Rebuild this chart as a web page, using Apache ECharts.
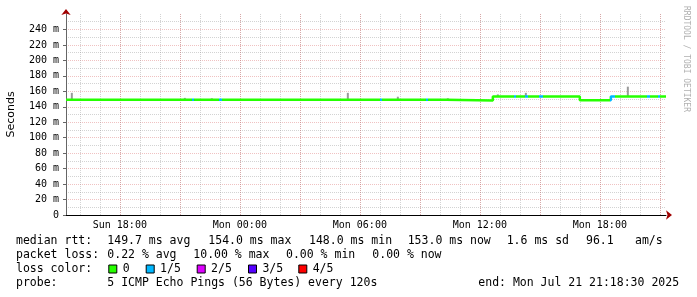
<!DOCTYPE html>
<html><head><meta charset="utf-8">
<script src="https://cdn.jsdelivr.net/npm/echarts@6/dist/echarts.min.js"></script>
<style>html,body{margin:0;padding:0;background:#fff}#c{width:697px;height:297px}</style>
</head><body><div id="c"></div>
<script>
// ---------- data ----------
const startTime = '2025-07-20 15:18:30';
const endTime = '2025-07-21 21:18:30';
// median RTT in ms, value holds from each time until the next one
const medianTimes = ['2025-07-20 15:18:30', '2025-07-21 10:18', '2025-07-21 12:39', '2025-07-21 17:00', '2025-07-21 18:33', '2025-07-21 21:18:30'];
const medianValues = [149.2, 148.0, 153.2, 148.4, 153.3, 153.3];
// packet loss periods (loss level in fifths)
const lossStart = ['2025-07-20 21:35', '2025-07-20 22:59', '2025-07-21 07:00', '2025-07-21 09:20', '2025-07-21 13:44', '2025-07-21 14:17', '2025-07-21 14:58', '2025-07-21 18:32', '2025-07-21 20:22', '2025-07-21 20:56'];
const lossEnd   = ['2025-07-20 21:42', '2025-07-20 23:06', '2025-07-21 07:07', '2025-07-21 09:24', '2025-07-21 13:48', '2025-07-21 14:24', '2025-07-21 15:09', '2025-07-21 18:45', '2025-07-21 20:30', '2025-07-21 21:00'];
const lossLevel = [1, 1, 1, 1, 1, 1, 1, 1, 1, 1];
// smoke (spread of pings) in ms
const smokeTimes = ['2025-07-20 15:36', '2025-07-20 21:15', '2025-07-20 22:36', '2025-07-21 05:24', '2025-07-21 07:54', '2025-07-21 10:24', '2025-07-21 12:54', '2025-07-21 14:18', '2025-07-21 19:24'];
const smokeLow  = [149, 149, 149, 149, 149, 148, 153, 153, 153];
const smokeHigh = [158, 151.5, 151, 158, 153, 151, 156, 158, 166];
// axes
const yMin = 0, yMax = 260, yStep = 20;
const xLabelTimes = ['2025-07-20 18:00', '2025-07-21 00:00', '2025-07-21 06:00', '2025-07-21 12:00', '2025-07-21 18:00'];
const xLabels = ['Sun 18:00', 'Mon 00:00', 'Mon 06:00', 'Mon 12:00', 'Mon 18:00'];
const firstGridHour = '2025-07-20 16:00';
// legend texts
const lossLabels = ['0', '1/5', '2/5', '3/5', '4/5'];
const lossColors = ['#26ff00', '#00b8ff', '#dd00ff', '#5500ff', '#ff0000'];
const rttStats = ['median rtt:', '149.7 ms avg', '154.0 ms max', '148.0 ms min', '153.0 ms now', '1.6 ms sd', '96.1', 'am/s'];
const lossStats = ['packet loss:', '0.22 % avg', '10.00 % max', '0.00 % min', '0.00 % now'];
const probeTexts = ['probe:', '5 ICMP Echo Pings (56 Bytes) every 120s', 'end: Mon Jul 21 21:18:30 2025'];
const watermark = 'RRDTOOL / TOBI OETIKER';

// ---------- layout ----------
const toMs = s => new Date(s.replace(' ', 'T')).getTime();
const HOUR = 3600000;
const mono = '"DejaVu Sans Mono", monospace';
const rttX = [16, 107.3, 208.3, 309, 407.7, 506.7, 586, 635];
const lossX = [16, 107.3, 193.3, 286, 372.3];
const swatchX = [108.3, 145.7, 196.7, 248, 298.3];
const probeX = [16, 107.3, 478.3];
const rowY = [241.5, 255.5, 269.5, 283.5];

const graphic = [];
const txt = (t, x, y) => graphic.push({type: 'text', x: x, y: y, style: {text: t, font: '11.5px ' + mono, fill: '#000', verticalAlign: 'middle'}});
rttStats.forEach((t, i) => txt(t, rttX[i], rowY[0]));
lossStats.forEach((t, i) => txt(t, lossX[i], rowY[1]));
txt('loss color:', 16, rowY[2]);
lossLabels.forEach((t, i) => {
  graphic.push({type: 'rect', shape: {x: swatchX[i] + 0.5, y: rowY[2] - 4.5, width: 8, height: 8}, style: {fill: lossColors[i], stroke: '#000', lineWidth: 1}});
  txt(t, swatchX[i] + 14.4, rowY[2]);
});
probeTexts.forEach((t, i) => txt(t, probeX[i], rowY[3]));
graphic.push({type: 'text', x: 686, y: 59, rotation: -Math.PI / 2, style: {text: watermark, font: '8px ' + mono, fill: '#b0b0b0', align: 'center', verticalAlign: 'middle'}});

// grid positions: every clock hour (grey) and every 3 hours (red)
const tStart = toMs(startTime), tEnd = toMs(endTime);
const hourTicks = [];
for (let t = toMs(firstGridHour); t < tEnd; t += HOUR) hourTicks.push(t);
const threeHourTicks = hourTicks.filter(t => new Date(t).getHours() % 3 === 0);
const labelTicks = xLabelTimes.map(toMs);

const minorStyle = {color: 'rgba(150,150,150,0.42)', type: [1, 1], width: 1};
const majorStyle = {color: 'rgba(220,110,110,0.42)', type: [1, 1], width: 1};

const medianData = medianTimes.map((t, i) => [toMs(t), medianValues[i]]);
const smokeData = smokeTimes.map((t, i) => [toMs(t), smokeLow[i], smokeHigh[i]]);

const xBase = {type: 'value', min: tStart, max: tEnd, position: 'bottom', scale: true};
const option = {
  animation: false,
  backgroundColor: '#fff',
  grid: {left: 66, right: 31, top: 14, bottom: 82, containLabel: false, outerBoundsMode: 'none'},
  xAxis: [
    Object.assign({}, xBase, {axisLine: {show: false}, axisTick: {show: false, customValues: hourTicks}, axisLabel: {show: false},
      splitLine: {show: true, showMinLine: true, showMaxLine: true, lineStyle: minorStyle}}),
    Object.assign({}, xBase, {
      axisLine: {show: true, lineStyle: {color: '#000', width: 1}},
      axisTick: {show: false, customValues: threeHourTicks},
      splitLine: {show: true, showMinLine: true, showMaxLine: true, lineStyle: majorStyle},
      axisLabel: {show: true, customValues: labelTicks, margin: 5, color: '#000', fontFamily: mono, fontSize: 10, hideOverlap: false,
        formatter: v => { const k = labelTicks.indexOf(+v); return k >= 0 ? xLabels[k] : ''; }}}),
    Object.assign({}, xBase, {axisLine: {show: true, symbol: ['none', 'arrow'], symbolSize: [7, 6], symbolOffset: [0, 6], lineStyle: {color: '#a00000', width: 0}}, axisTick: {show: false}, axisLabel: {show: false}, splitLine: {show: false}})
  ],
  yAxis: [
    {type: 'value', min: yMin, max: yMax, interval: yStep, position: 'left',
      name: 'Seconds', nameLocation: 'middle', nameRotate: 90, nameGap: 49,
      nameTextStyle: {fontFamily: '"DejaVu Sans", sans-serif', fontSize: 11, color: '#000'},
      axisLine: {show: true, lineStyle: {color: '#666', width: 1}},
      axisTick: {show: true, length: 3, lineStyle: {color: '#666'}},
      axisLabel: {margin: 7, color: '#000', fontFamily: mono, fontSize: 10, showMaxLabel: false, formatter: v => v === 0 ? '0' : v + ' m'},
      splitLine: {show: true, showMinLine: false, showMaxLine: false, lineStyle: majorStyle},
      minorTick: {show: false, splitNumber: 2},
      minorSplitLine: {show: true, lineStyle: minorStyle}},
    {type: 'value', min: yMin, max: yMax, position: 'left',
      axisLine: {show: true, symbol: ['none', 'arrow'], symbolSize: [7, 6], symbolOffset: [0, 5], lineStyle: {color: '#a00000', width: 0}},
      axisTick: {show: false}, axisLabel: {show: false}, splitLine: {show: false}}
  ],
  visualMap: {type: 'piecewise', show: false, seriesIndex: 1, dimension: 0,
    pieces: lossStart.map((s, i) => ({gte: toMs(s), lte: toMs(lossEnd[i]), color: lossColors[lossLevel[i]]})),
    outOfRange: {color: lossColors[0]}},
  graphic: graphic,
  series: [
    {type: 'custom', xAxisIndex: 1, yAxisIndex: 0, z: 1, data: smokeData, encode: {x: 0, y: [1, 2]},
      renderItem: (params, api) => {
        const top = api.coord([api.value(0), api.value(2)]);
        const bot = api.coord([api.value(0), api.value(1)]);
        return {type: 'rect', shape: {x: top[0] - 1, y: top[1], width: 2, height: bot[1] - top[1]}, style: {fill: '#9a9a9a'}};
      }},
    {type: 'line', xAxisIndex: 1, yAxisIndex: 0, z: 3, step: 'end', showSymbol: false, data: medianData,
      lineStyle: {width: 2.5}}
  ]
};
const chart = echarts.init(document.getElementById('c'), null, {renderer: 'canvas', devicePixelRatio: 1});
chart.setOption(option);
</script></body></html>
